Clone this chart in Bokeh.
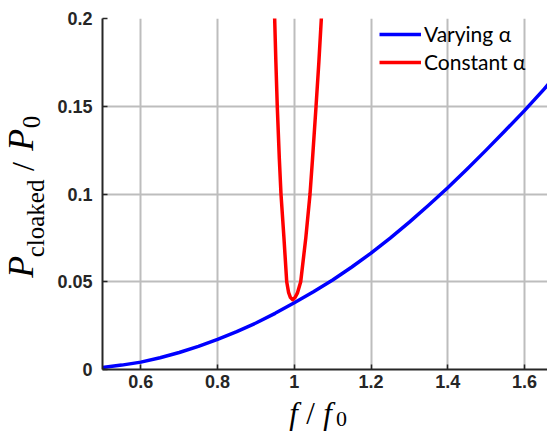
import math
from bokeh.plotting import figure
from bokeh.layouts import row, column
from bokeh.models import FixedTicker, Label, Legend, LegendItem
from bokeh.embed import file_html
from bokeh.resources import INLINE

# ---- data ----
f_varying = [0.50, 0.55, 0.60, 0.65, 0.70, 0.75, 0.80, 0.85, 0.90, 0.95, 1.00,
             1.05, 1.10, 1.15, 1.20, 1.25, 1.30, 1.35, 1.40, 1.45, 1.50, 1.55,
             1.60, 1.65, 1.70]
p_varying = [0.0012, 0.0025, 0.0042, 0.0067, 0.0097, 0.0132, 0.0172, 0.0216,
             0.0265, 0.0320, 0.0380, 0.0443, 0.0510, 0.0584, 0.0663, 0.0749,
             0.0840, 0.0936, 0.1036, 0.1141, 0.1250, 0.1362, 0.1475, 0.1595,
             0.1720]

f_constant = [0.9470, 0.9488, 0.9520, 0.9556, 0.9610, 0.9653, 0.9730, 0.9802,
              0.9850, 0.9900, 0.9958, 1.0020, 1.0080, 1.0167, 1.0300, 1.0410,
              1.0475, 1.0567, 1.0640, 1.0705, 1.0720]
p_constant = [0.210, 0.200, 0.175, 0.150, 0.120, 0.100, 0.075, 0.050,
              0.0440, 0.0410, 0.0398, 0.0410, 0.0435, 0.0500, 0.0750, 0.1000,
              0.1200, 0.1500, 0.1750, 0.2000, 0.2100]

x_ticks = [0.6, 0.8, 1.0, 1.2, 1.4, 1.6]
x_tick_labels = ["0.6", "0.8", "1", "1.2", "1.4", "1.6"]
y_ticks = [0.0, 0.05, 0.1, 0.15, 0.2]
y_tick_labels = ["0", "0.05", "0.1", "0.15", "0.2"]

series_names = ["Varying \u03b1", "Constant \u03b1"]

# ---- layout geometry (page pixels) ----
TOTAL_W, TOTAL_H = 547, 432
YLAB_W = 52            # left strip holding the y-axis title
XLAB_H = 37            # bottom strip (full width) holding the x-axis title
MAIN_W = TOTAL_W - YLAB_W
MAIN_H = TOTAL_H - XLAB_H
FRAME_LEFT = 102
FRAME_TOP = 18
FRAME_BOTTOM = 369
BL = FRAME_LEFT - YLAB_W
BT = FRAME_TOP
BB = MAIN_H - FRAME_BOTTOM
FW = MAIN_W - BL
PX_PER_UNIT = 383.6

p = figure(width=MAIN_W, height=MAIN_H,
           x_range=(0.5, 0.5 + FW / PX_PER_UNIT), y_range=(0, 0.2),
           output_backend="svg", toolbar_location=None,
           min_border_left=BL, min_border_right=0, min_border_top=BT,
           min_border_bottom=BB)
p.outline_line_color = None
p.background_fill_color = "white"
p.border_fill_color = "white"

for ax in (p.xaxis[0], p.yaxis[0]):
    ax.axis_line_color = "#262626"
    ax.axis_line_width = 2
    ax.major_tick_in = 5
    ax.major_tick_out = 0
    ax.major_tick_line_color = "#262626"
    ax.major_tick_line_width = 1.5
    ax.minor_tick_line_color = None
    ax.major_label_text_font = "Liberation Sans"
    ax.major_label_text_font_style = "bold"
    ax.major_label_text_font_size = "18px"
    ax.major_label_text_color = "#262626"

p.xaxis.ticker = FixedTicker(ticks=x_ticks)
p.xaxis.major_label_overrides = dict(zip(x_ticks, x_tick_labels))
p.xaxis.major_label_standoff = 5
p.yaxis.ticker = FixedTicker(ticks=y_ticks)
p.yaxis.major_label_overrides = dict(zip(y_ticks, y_tick_labels))
p.yaxis.major_label_standoff = 10

p.xgrid.grid_line_color = "#bdbdbd"
p.ygrid.grid_line_color = "#bdbdbd"
p.xgrid.grid_line_width = 2
p.ygrid.grid_line_width = 2

r1 = p.line(f_varying, p_varying, line_color="#0000ff", line_width=3.5, line_join="round")
r2 = p.line(f_constant, p_constant, line_color="#ff0000", line_width=3.5, line_join="round")

LEG_ROW_H = 26
LEG_SPACING = 2
LEG_TOP = 20.5
leg_h = 2 * LEG_ROW_H + LEG_SPACING
legend = Legend(items=[LegendItem(label=series_names[0], renderers=[r1]),
                       LegendItem(label=series_names[1], renderers=[r2])],
                location=(379 - FRAME_LEFT, FRAME_BOTTOM - (LEG_TOP + leg_h)),
                padding=0, margin=0, spacing=LEG_SPACING,
                glyph_width=42, glyph_height=LEG_ROW_H, label_height=LEG_ROW_H,
                label_standoff=3, label_text_font="Lato",
                label_text_font_size="21px", label_text_color="black",
                background_fill_alpha=0, border_line_color=None)
p.add_layout(legend)


def text_strip(w, h):
    f = figure(width=w, height=h, x_range=(0, w), y_range=(0, h),
               x_axis_type=None, y_axis_type=None, output_backend="svg",
               toolbar_location=None, min_border=0, min_border_left=0,
               min_border_right=0, min_border_top=0, min_border_bottom=0)
    f.outline_line_color = None
    f.background_fill_color = "white"
    f.border_fill_color = "white"
    f.grid.visible = False
    return f


def put(fig, x0, y0, h, text, cx, cy, size, style, angle=0.0):
    # (cx, cy): page position of the centre of the text piece
    fig.add_layout(Label(x=cx - x0, y=h - (cy - y0), text=text,
                         text_font="Liberation Serif", text_font_style=style,
                         text_font_size=size, text_color="black", angle=angle,
                         text_align="center", text_baseline="middle"))


# y-axis title strip (page origin 0,0)
ylab = text_strip(YLAB_W, MAIN_H)
A = math.pi / 2
put(ylab, 0, 0, MAIN_H, "P", 20.5, 279.5, "36px", "italic", A)
put(ylab, 0, 0, MAIN_H, "cloaked", 34.5, 225, "25px", "normal", A)
put(ylab, 0, 0, MAIN_H, "/", 22, 166.5, "32px", "normal", A)
put(ylab, 0, 0, MAIN_H, "P", 20.5, 136.5, "36px", "italic", A)
put(ylab, 0, 0, MAIN_H, "0", 30.5, 116.5, "25px", "normal", A)

# x-axis title strip (page origin 0, MAIN_H), full width
xlab = text_strip(TOTAL_W, XLAB_H)
put(xlab, 0, MAIN_H, XLAB_H, "f", 293, 413, "31px", "italic")
put(xlab, 0, MAIN_H, XLAB_H, "/", 310, 413, "31px", "normal")
put(xlab, 0, MAIN_H, XLAB_H, "f", 327, 413, "31px", "italic")
put(xlab, 0, MAIN_H, XLAB_H, "0", 341, 418, "22px", "normal")

layout = column(row(ylab, p, spacing=0), xlab, spacing=0)

open("out.html", "w").write(file_html(layout, INLINE))
